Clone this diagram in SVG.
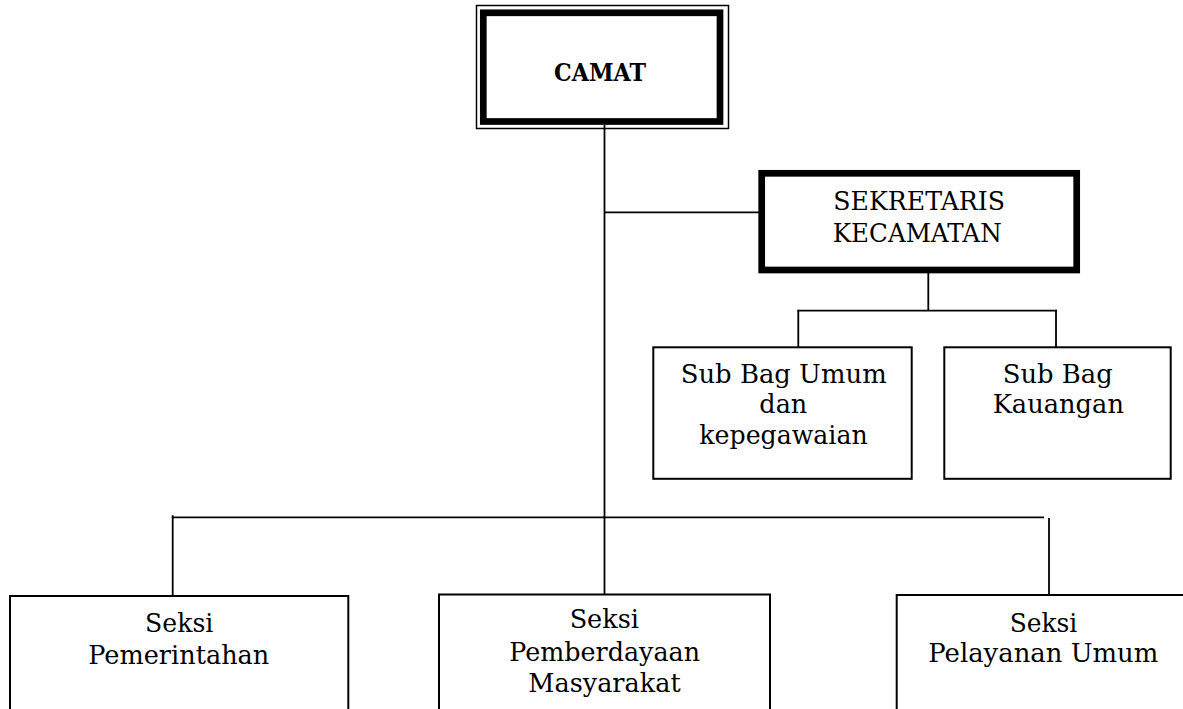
<svg xmlns="http://www.w3.org/2000/svg" width="1183" height="709" viewBox="0 0 1183 709">
<style>
.bg{fill:#ffffff}
.box{fill:#ffffff;stroke:#000000;stroke-width:2}
.thick{fill:#ffffff;stroke:#000000;stroke-width:6.7}
.thin{fill:none;stroke:#000000;stroke-width:1.5}
.conn line{stroke:#000000;stroke-width:1.8}
text{font-family:"DejaVu Serif","Liberation Serif",serif;font-size:26px;fill:#000000;text-anchor:middle}
.b{font-weight:bold;font-size:25px}
</style>
<rect class="bg" x="0" y="0" width="1183" height="709"/>
<g id="connectors" class="conn">
  <line x1="604.5" y1="125" x2="604.5" y2="594.5"/>
  <line x1="604.5" y1="212.3" x2="759" y2="212.3"/>
  <line x1="928.3" y1="273" x2="928.3" y2="310.7"/>
  <line x1="797.4" y1="310.7" x2="1056.9" y2="310.7"/>
  <line x1="798.3" y1="309.8" x2="798.3" y2="347.5"/>
  <line x1="1056" y1="309.8" x2="1056" y2="347.5"/>
  <line x1="171.8" y1="517.3" x2="1044" y2="517.3"/>
  <line x1="172.7" y1="515.2" x2="172.7" y2="596"/>
  <line x1="1049" y1="518" x2="1049" y2="595"/>
</g>
<g id="camat">
  <rect class="thin" x="476.5" y="5.5" width="252" height="123"/>
  <rect class="thick" x="483.3" y="12.8" width="236.7" height="108.7"/>
  <text class="b" x="600" y="80.7" textLength="92" lengthAdjust="spacingAndGlyphs">CAMAT</text>
</g>
<g id="sekretaris">
  <rect class="thick" x="761.7" y="173.3" width="315" height="96.7"/>
  <text x="919.2" y="210" textLength="171.7" lengthAdjust="spacingAndGlyphs">SEKRETARIS</text>
  <text x="917.2" y="241.7" textLength="169" lengthAdjust="spacingAndGlyphs">KECAMATAN</text>
</g>
<g id="subbag-umum">
  <rect class="box" x="653.3" y="347.3" width="258.4" height="131.5"/>
  <text x="783.7" y="383.3" textLength="206" lengthAdjust="spacingAndGlyphs">Sub Bag Umum</text>
  <text x="783.3" y="413.3" textLength="48" lengthAdjust="spacingAndGlyphs">dan</text>
  <text x="783.5" y="444" textLength="168.3" lengthAdjust="spacingAndGlyphs">kepegawaian</text>
</g>
<g id="subbag-keuangan">
  <rect class="box" x="944.3" y="347.3" width="226.4" height="131.5"/>
  <text x="1057.7" y="383.3" textLength="110" lengthAdjust="spacingAndGlyphs">Sub Bag</text>
  <text x="1058.3" y="413.3" textLength="131.3" lengthAdjust="spacingAndGlyphs">Kauangan</text>
</g>
<g id="seksi-pemerintahan">
  <rect class="box" x="10" y="596" width="338.3" height="130"/>
  <text x="179.2" y="632.3" textLength="68.3" lengthAdjust="spacingAndGlyphs">Seksi</text>
  <text x="178.8" y="664.3" textLength="181" lengthAdjust="spacingAndGlyphs">Pemerintahan</text>
</g>
<g id="seksi-pemberdayaan">
  <rect class="box" x="439" y="594.5" width="331" height="130"/>
  <text x="604.3" y="628.3" textLength="69.3" lengthAdjust="spacingAndGlyphs">Seksi</text>
  <text x="604.7" y="660.7" textLength="190.7" lengthAdjust="spacingAndGlyphs">Pemberdayaan</text>
  <text x="604.5" y="692.3" textLength="152.3" lengthAdjust="spacingAndGlyphs">Masyarakat</text>
</g>
<g id="seksi-pelayanan">
  <rect class="box" x="896.7" y="595" width="300" height="130"/>
  <text x="1043.5" y="631.7" textLength="67.7" lengthAdjust="spacingAndGlyphs">Seksi</text>
  <text x="1043.3" y="662.3" textLength="230" lengthAdjust="spacingAndGlyphs">Pelayanan Umum</text>
</g>
</svg>
